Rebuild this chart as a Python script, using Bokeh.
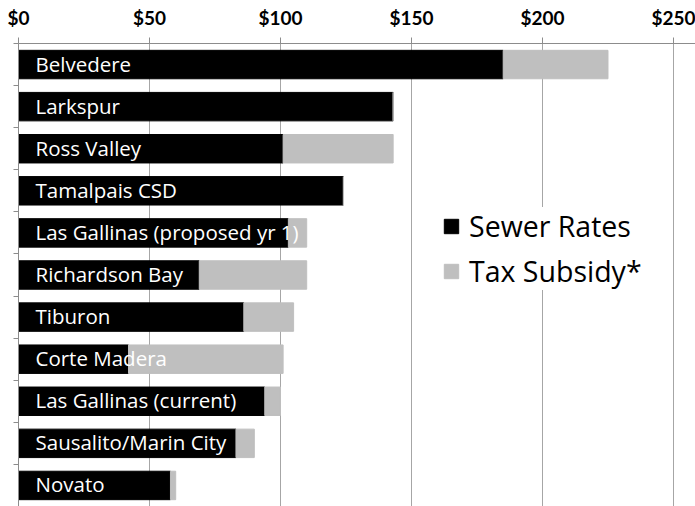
from bokeh.plotting import figure
from bokeh.models import (ColumnDataSource, FixedTicker, Legend, LegendItem, Range1d,
                          NumeralTickFormatter, CustomJSTickFormatter)
from bokeh.core.properties import value
from bokeh.embed import file_html
from bokeh.resources import INLINE

districts = ["Belvedere", "Larkspur", "Ross Valley", "Tamalpais CSD",
             "Las Gallinas (proposed yr 1)", "Richardson Bay", "Tiburon",
             "Corte Madera", "Las Gallinas (current)", "Sausalito/Marin City", "Novato"]
sewer_rates = [185, 143, 101, 124, 103, 69, 86, 42, 94, 83, 58]
tax_subsidy = [40, 0, 42, 0, 7, 41, 19, 59, 6, 7, 2]
x_ticks = [0, 50, 100, 150, 200, 250]

n = len(districts)
ypos = [n - 1 - i for i in range(n)]
totals = [s + t for s, t in zip(sewer_rates, tax_subsidy)]

src = ColumnDataSource(dict(y=ypos, name=districts, sewer=sewer_rates,
                            total=totals, zero=[0] * n))

p = figure(width=695, height=506, output_backend="svg", toolbar_location=None,
           x_range=Range1d(0, 258.4), y_range=Range1d(-0.5, 10.5),
           x_axis_location="above", min_border_left=18, min_border_top=43,
           min_border_right=0, min_border_bottom=0)
p.outline_line_color = None
p.background_fill_color = "white"

r1 = p.hbar(y="y", left="zero", right="sewer", height=0.676, color="black", source=src)
r2 = p.hbar(y="y", left="sewer", right="total", height=0.676, color="#bfbfbf", source=src)

p.text(x="zero", y="y", text="name", source=src, x_offset=17, y_offset=-1,
       text_color="white", text_font=value("Open Sans"), text_font_size="20.5px",
       text_baseline="middle", text_align="left")

# top x axis
xa = p.xaxis[0]
xa.ticker = FixedTicker(ticks=x_ticks)
xa.formatter = NumeralTickFormatter(format="$0")
xa.major_label_text_font = "Lato"
xa.major_label_text_font_style = "bold"
xa.major_label_text_font_size = "19px"
xa.major_label_text_color = "black"
xa.major_label_standoff = 9
xa.major_tick_out = 6
xa.major_tick_in = 0
xa.minor_tick_line_color = None
xa.axis_line_color = "#8c8c8c"
xa.major_tick_line_color = "#8c8c8c"

ya = p.yaxis[0]
ya.ticker = FixedTicker(ticks=[k + 0.5 for k in range(-1, n)])
ya.formatter = CustomJSTickFormatter(code="return ''")
ya.major_label_standoff = 0
ya.major_tick_out = 5
ya.major_tick_in = 0
ya.minor_tick_line_color = None
ya.axis_line_color = "#8c8c8c"
ya.major_tick_line_color = "#8c8c8c"

p.xgrid.ticker = FixedTicker(ticks=x_ticks[1:])
p.xgrid.grid_line_color = "#a6a6a6"
p.ygrid.grid_line_color = None

legend = Legend(items=[LegendItem(label="Sewer Rates", renderers=[r1]),
                       LegendItem(label="Tax Subsidy*", renderers=[r2])],
                location=(424, 216), orientation="vertical",
                background_fill_color="white", background_fill_alpha=1.0,
                border_line_color=None, label_text_font="Open Sans",
                label_text_font_size="28.5px", label_text_color="black",
                glyph_width=18, glyph_height=18,
                label_height=38, spacing=7, padding=10, margin=0,
                label_standoff=9)
p.add_layout(legend)

open("out.html", "w").write(file_html(p, INLINE))
